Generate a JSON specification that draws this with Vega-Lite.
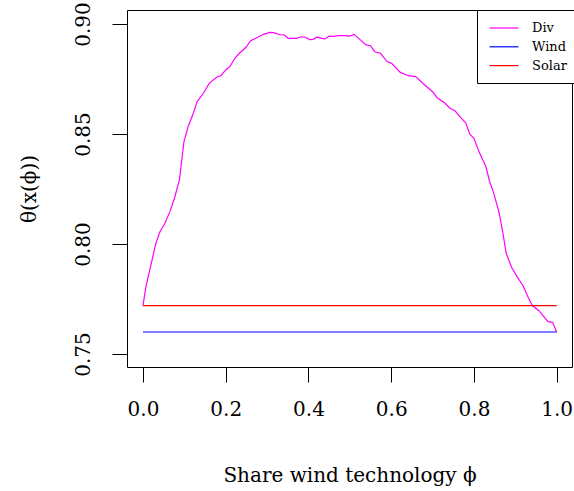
{
  "$schema": "https://vega.github.io/schema/vega-lite/v6.json",
  "width": 445,
  "height": 357,
  "autosize": {"type": "none"},
  "padding": {"left": 127, "top": 10, "right": 2, "bottom": 124},
  "background": "white",
  "config": {
    "view": {"stroke": "black", "strokeWidth": 1},
    "font": "DejaVu Serif"
  },
  "data": {
    "values": [
      {"phi": 0, "theta": 0.772, "series": "Div"},
      {"phi": 0.007, "theta": 0.7806, "series": "Div"},
      {"phi": 0.021, "theta": 0.792, "series": "Div"},
      {"phi": 0.031, "theta": 0.8003, "series": "Div"},
      {"phi": 0.041, "theta": 0.8056, "series": "Div"},
      {"phi": 0.053, "theta": 0.8094, "series": "Div"},
      {"phi": 0.065, "theta": 0.8147, "series": "Div"},
      {"phi": 0.076, "theta": 0.8208, "series": "Div"},
      {"phi": 0.088, "theta": 0.8291, "series": "Div"},
      {"phi": 0.099, "theta": 0.8465, "series": "Div"},
      {"phi": 0.109, "theta": 0.8533, "series": "Div"},
      {"phi": 0.12, "theta": 0.8586, "series": "Div"},
      {"phi": 0.131, "theta": 0.8647, "series": "Div"},
      {"phi": 0.146, "theta": 0.8685, "series": "Div"},
      {"phi": 0.16, "theta": 0.873, "series": "Div"},
      {"phi": 0.178, "theta": 0.8758, "series": "Div"},
      {"phi": 0.188, "theta": 0.8765, "series": "Div"},
      {"phi": 0.2, "theta": 0.8791, "series": "Div"},
      {"phi": 0.21, "theta": 0.8806, "series": "Div"},
      {"phi": 0.222, "theta": 0.8844, "series": "Div"},
      {"phi": 0.233, "theta": 0.8867, "series": "Div"},
      {"phi": 0.249, "theta": 0.8894, "series": "Div"},
      {"phi": 0.26, "theta": 0.8924, "series": "Div"},
      {"phi": 0.273, "theta": 0.8935, "series": "Div"},
      {"phi": 0.291, "theta": 0.8953, "series": "Div"},
      {"phi": 0.307, "theta": 0.8962, "series": "Div"},
      {"phi": 0.316, "theta": 0.8961, "series": "Div"},
      {"phi": 0.331, "theta": 0.8951, "series": "Div"},
      {"phi": 0.341, "theta": 0.8951, "series": "Div"},
      {"phi": 0.351, "theta": 0.8935, "series": "Div"},
      {"phi": 0.371, "theta": 0.8935, "series": "Div"},
      {"phi": 0.383, "theta": 0.8942, "series": "Div"},
      {"phi": 0.391, "theta": 0.8941, "series": "Div"},
      {"phi": 0.403, "theta": 0.8929, "series": "Div"},
      {"phi": 0.411, "theta": 0.893, "series": "Div"},
      {"phi": 0.421, "theta": 0.8941, "series": "Div"},
      {"phi": 0.432, "theta": 0.8935, "series": "Div"},
      {"phi": 0.44, "theta": 0.8932, "series": "Div"},
      {"phi": 0.45, "theta": 0.8945, "series": "Div"},
      {"phi": 0.46, "theta": 0.8944, "series": "Div"},
      {"phi": 0.472, "theta": 0.8947, "series": "Div"},
      {"phi": 0.488, "theta": 0.8947, "series": "Div"},
      {"phi": 0.5, "theta": 0.8945, "series": "Div"},
      {"phi": 0.51, "theta": 0.8953, "series": "Div"},
      {"phi": 0.524, "theta": 0.893, "series": "Div"},
      {"phi": 0.539, "theta": 0.8905, "series": "Div"},
      {"phi": 0.55, "theta": 0.8901, "series": "Div"},
      {"phi": 0.56, "theta": 0.8874, "series": "Div"},
      {"phi": 0.574, "theta": 0.8867, "series": "Div"},
      {"phi": 0.59, "theta": 0.8829, "series": "Div"},
      {"phi": 0.601, "theta": 0.8821, "series": "Div"},
      {"phi": 0.622, "theta": 0.878, "series": "Div"},
      {"phi": 0.641, "theta": 0.8765, "series": "Div"},
      {"phi": 0.659, "theta": 0.8761, "series": "Div"},
      {"phi": 0.681, "theta": 0.8723, "series": "Div"},
      {"phi": 0.7, "theta": 0.8692, "series": "Div"},
      {"phi": 0.711, "theta": 0.8665, "series": "Div"},
      {"phi": 0.729, "theta": 0.8642, "series": "Div"},
      {"phi": 0.742, "theta": 0.8617, "series": "Div"},
      {"phi": 0.754, "theta": 0.8606, "series": "Div"},
      {"phi": 0.764, "theta": 0.8582, "series": "Div"},
      {"phi": 0.78, "theta": 0.8551, "series": "Div"},
      {"phi": 0.79, "theta": 0.8499, "series": "Div"},
      {"phi": 0.8, "theta": 0.848, "series": "Div"},
      {"phi": 0.812, "theta": 0.842, "series": "Div"},
      {"phi": 0.829, "theta": 0.8351, "series": "Div"},
      {"phi": 0.838, "theta": 0.8283, "series": "Div"},
      {"phi": 0.848, "theta": 0.823, "series": "Div"},
      {"phi": 0.861, "theta": 0.814, "series": "Div"},
      {"phi": 0.87, "theta": 0.8049, "series": "Div"},
      {"phi": 0.878, "theta": 0.7958, "series": "Div"},
      {"phi": 0.891, "theta": 0.7894, "series": "Div"},
      {"phi": 0.903, "theta": 0.7855, "series": "Div"},
      {"phi": 0.919, "theta": 0.7809, "series": "Div"},
      {"phi": 0.931, "theta": 0.7758, "series": "Div"},
      {"phi": 0.941, "theta": 0.772, "series": "Div"},
      {"phi": 0.957, "theta": 0.7697, "series": "Div"},
      {"phi": 0.969, "theta": 0.767, "series": "Div"},
      {"phi": 0.979, "theta": 0.7647, "series": "Div"},
      {"phi": 0.99, "theta": 0.7644, "series": "Div"},
      {"phi": 1.0, "theta": 0.76, "series": "Div"},
      {"phi": 0, "theta": 0.76, "series": "Wind"},
      {"phi": 1.0, "theta": 0.76, "series": "Wind"},
      {"phi": 0, "theta": 0.772, "series": "Solar"},
      {"phi": 1.0, "theta": 0.772, "series": "Solar"}
    ]
  },
  "mark": {"type": "line", "strokeWidth": 1.2, "clip": true},
  "encoding": {
    "x": {
      "field": "phi",
      "type": "quantitative",
      "scale": {"domain": [-0.0387, 1.037], "nice": false, "zero": false},
      "axis": {
        "values": [0, 0.2, 0.4, 0.6, 0.8, 1.0],
        "format": ".1f",
        "grid": false,
        "domain": false,
        "tickSize": 15,
        "tickColor": "black",
        "tickWidth": 1,
        "labelFont": "DejaVu Serif",
        "labelFontSize": 20,
        "labelColor": "black",
        "labelBaseline": "alphabetic",
        "labelPadding": 33,
        "labelFlush": false,
        "labelOverlap": false,
        "title": "Share wind technology ϕ",
        "titleFont": "DejaVu Serif",
        "titleFontSize": 20,
        "titleFontWeight": "normal",
        "titleColor": "black",
        "titleBaseline": "alphabetic",
        "titleAlign": "center",
        "titleX": 222.5,
        "titleY": 114
      }
    },
    "y": {
      "field": "theta",
      "type": "quantitative",
      "scale": {"domain": [0.74409, 0.90636], "nice": false, "zero": false},
      "axis": {
        "values": [0.75, 0.8, 0.85, 0.9],
        "format": ".2f",
        "grid": false,
        "domain": false,
        "tickSize": 15,
        "tickColor": "black",
        "tickWidth": 1,
        "labelFont": "DejaVu Serif",
        "labelFontSize": 20,
        "labelColor": "black",
        "labelAngle": -90,
        "labelAlign": "center",
        "labelBaseline": "alphabetic",
        "labelPadding": 23,
        "labelOverlap": false,
        "title": "θ(x(ϕ))",
        "titleFont": "DejaVu Serif",
        "titleFontSize": 20,
        "titleFontWeight": "normal",
        "titleColor": "black",
        "titleAngle": -90,
        "titleAlign": "center",
        "titleBaseline": "alphabetic",
        "titleX": -92,
        "titleY": 178.5
      }
    },
    "color": {
      "field": "series",
      "type": "nominal",
      "scale": {"domain": ["Div", "Wind", "Solar"], "range": ["#ff00ff", "#0000ff", "#ff0000"]},
      "legend": {
        "title": null,
        "orient": "none",
        "legendX": 350,
        "legendY": 0,
        "strokeColor": "black",
        "fillColor": "white",
        "cornerRadius": 0,
        "padding": 10,
        "rowPadding": 3.8,
        "symbolType": "M-2,0H2",
        "symbolSize": 210,
        "symbolStrokeWidth": 1.2,
        "symbolOffset": 9,
        "labelOffset": 20,
        "labelFont": "DejaVu Serif",
        "labelFontSize": 13,
        "labelColor": "black"
      }
    }
  }
}
